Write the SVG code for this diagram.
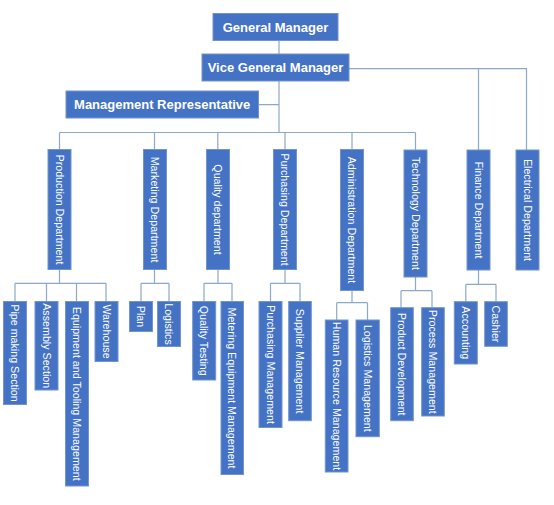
<svg xmlns="http://www.w3.org/2000/svg" width="554" height="505" viewBox="0 0 554 505">
<style>
.b{fill:#4472C4;stroke:#7393CF;stroke-width:1}
.h{font-family:"Liberation Sans",Arial,sans-serif;font-size:13px;font-weight:bold;fill:#fff;text-anchor:middle}
.v{font-family:"Liberation Sans",Arial,sans-serif;font-size:10.7px;fill:#fff;text-anchor:middle}
.c{fill:none;stroke:#8DA9C9;stroke-width:1.2}
</style>
<rect width="554" height="505" fill="#fff"/>
<g id="connectors" class="c">
<path d="M279 40.5V54M279 81V132.5M258.5 104.7H279M349 68.7H526.5V150M478.5 68.7V150"/>
<path d="M59.5 132.5H415.5M59.5 132.5V149.5M154.5 132.5V149.5M217.8 132.5V149.5M285 132.5V149.5M352 132.5V149.5M415.5 132.5V150"/>
<path d="M59.5 269.5V283.3M15 283.3H106M15 283.3V301.5M46.5 283.3V301.5M76.5 283.3V301.5M106 283.3V301.5"/>
<path d="M154.5 269.5V283.3M141 283.3H169M141 283.3V301.5M169 283.3V301.5"/>
<path d="M218 269.5V283.3M204 283.3H232M204 283.3V301.5M232 283.3V301.5"/>
<path d="M285 269.5V283.3M270.5 283.3H300M270.5 283.3V301.5M300 283.3V301.5"/>
<path d="M352 290.7V302.7M336.7 302.7H367.5M336.7 302.7V320M367.5 302.7V320"/>
<path d="M415.5 277V290.7M401 290.7H432M401 290.7V307.7M432 290.7V307.7"/>
<path d="M478.5 270V284.3M465.8 284.3H496M465.8 284.3V301.7M496 284.3V301.7"/>
</g>
<g id="general-manager"><rect class="b" x="213" y="13.5" width="125" height="27"/><text class="h" x="275.5" y="31.6">General Manager</text></g>
<g id="vice-general-manager"><rect class="b" x="202" y="54" width="147" height="27"/><text class="h" x="275.5" y="72.1">Vice General Manager</text></g>
<g id="management-representative"><rect class="b" x="66" y="91" width="192.5" height="27"/><text class="h" x="162.2" y="109.1">Management Representative</text></g>

<g id="production-department"><rect class="b" x="48" y="149.5" width="23" height="120"/><text class="v" transform="translate(59.5,209.5) rotate(90)" y="3.8">Production Department</text></g>
<g id="marketing-department"><rect class="b" x="143.5" y="149.5" width="23" height="120"/><text class="v" transform="translate(155,209.5) rotate(90)" y="3.8">Marketing Department</text></g>
<g id="quality-department"><rect class="b" x="206.5" y="149.5" width="23" height="120"/><text class="v" transform="translate(218,209.5) rotate(90)" y="3.8">Quality department</text></g>
<g id="purchasing-department"><rect class="b" x="273.5" y="149.5" width="23" height="120"/><text class="v" transform="translate(285,209.5) rotate(90)" y="3.8">Purchasing Department</text></g>
<g id="administration-department"><rect class="b" x="340.5" y="149.5" width="23" height="141"/><text class="v" transform="translate(352,220) rotate(90)" y="3.8">Administration Department</text></g>
<g id="technology-department"><rect class="b" x="404" y="150" width="23" height="127"/><text class="v" transform="translate(415.5,213.5) rotate(90)" y="3.8">Technology Department</text></g>
<g id="finance-department"><rect class="b" x="467" y="150" width="23" height="120"/><text class="v" transform="translate(478.5,210) rotate(90)" y="3.8">Finance Department</text></g>
<g id="electrical-department"><rect class="b" x="516" y="150" width="23" height="120"/><text class="v" transform="translate(527.5,210) rotate(90)" y="3.8">Electrical Department</text></g>

<g id="pipe-making-section"><rect class="b" x="3.5" y="301.5" width="23" height="103"/><text class="v" transform="translate(15,353) rotate(90)" y="3.8">Pipe making Section</text></g>
<g id="assembly-section"><rect class="b" x="35" y="301.5" width="23" height="88.5"/><text class="v" transform="translate(46.5,345.7) rotate(90)" y="3.8">Assembly Section</text></g>
<g id="equipment-tooling"><rect class="b" x="65.5" y="301.5" width="23" height="184.5"/><text class="v" transform="translate(77,393.7) rotate(90)" y="3.8">Equipment and Tooling Management</text></g>
<g id="warehouse"><rect class="b" x="95" y="301.5" width="23" height="60"/><text class="v" transform="translate(106.5,331.5) rotate(90)" y="3.8">Warehouse</text></g>

<g id="plan"><rect class="b" x="129.5" y="301.5" width="23" height="30"/><text class="v" transform="translate(141,316.5) rotate(90)" y="3.8">Plan</text></g>
<g id="logistics"><rect class="b" x="157.5" y="301.5" width="23" height="45"/><text class="v" transform="translate(169,324) rotate(90)" y="3.8">Logistics</text></g>

<g id="quality-testing"><rect class="b" x="192.7" y="301.5" width="23" height="78.5"/><text class="v" transform="translate(204.2,340.7) rotate(90)" y="3.8">Quality Testing</text></g>
<g id="metering-equipment"><rect class="b" x="221" y="301.5" width="22.5" height="173"/><text class="v" transform="translate(232.2,388) rotate(90)" y="3.8">Metering Equipment Management</text></g>

<g id="purchasing-management"><rect class="b" x="259" y="301.5" width="23" height="126"/><text class="v" transform="translate(270.5,364.5) rotate(90)" y="3.8">Purchasing Management</text></g>
<g id="supplier-management"><rect class="b" x="288.7" y="301.5" width="22.6" height="119.2"/><text class="v" transform="translate(300,361.1) rotate(90)" y="3.8">Supplier Management</text></g>

<g id="human-resource-management"><rect class="b" x="325.3" y="320" width="22.7" height="152"/><text class="v" transform="translate(336.7,396) rotate(90)" y="3.8">Human Resource Management</text></g>
<g id="logistics-management"><rect class="b" x="356" y="320" width="23.3" height="116.7"/><text class="v" transform="translate(367.7,378.3) rotate(90)" y="3.8">Logistics Management</text></g>

<g id="product-development"><rect class="b" x="390.7" y="307.7" width="22.6" height="113"/><text class="v" transform="translate(402,364.2) rotate(90)" y="3.8">Product Development</text></g>
<g id="process-management"><rect class="b" x="421.7" y="307.7" width="22.6" height="108.3"/><text class="v" transform="translate(433,361.8) rotate(90)" y="3.8">Process Management</text></g>

<g id="accounting"><rect class="b" x="454.3" y="301.7" width="23" height="62.3"/><text class="v" transform="translate(465.8,332.8) rotate(90)" y="3.8">Accounting</text></g>
<g id="cashier"><rect class="b" x="484.7" y="301.7" width="22.6" height="44.6"/><text class="v" transform="translate(496,324) rotate(90)" y="3.8">Cashier</text></g>
</svg>
